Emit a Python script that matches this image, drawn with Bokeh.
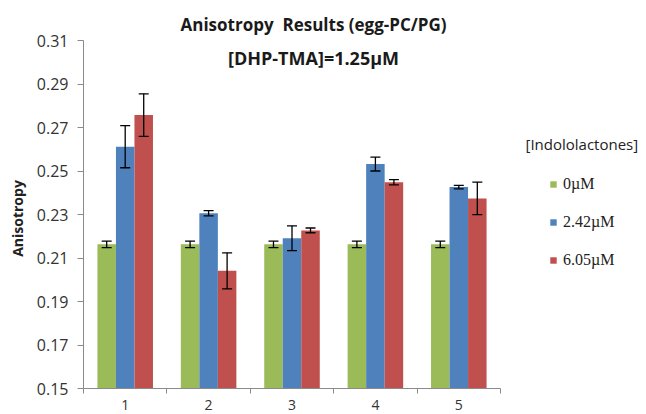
import math
from bokeh.plotting import figure
from bokeh.models import (ColumnDataSource, Whisker, FixedTicker, Range1d, Legend,
                          LegendItem, Label)
from bokeh.transform import dodge
from bokeh.embed import file_html
from bokeh.resources import INLINE

# ---- data ----
samples = [1, 2, 3, 4, 5]
sample_labels = ["1", "2", "3", "4", "5"]
series_names = ["0\u00b5M", "2.42\u00b5M", "6.05\u00b5M"]
vals_0 = [0.2163, 0.2163, 0.2163, 0.2163, 0.2163]
err_0 = [0.0015, 0.0015, 0.0015, 0.0015, 0.0015]
vals_242 = [0.2612, 0.2306, 0.2191, 0.2532, 0.2426]
err_242 = [0.0097, 0.0012, 0.0057, 0.0032, 0.0008]
vals_605 = [0.2757, 0.2041, 0.2227, 0.2448, 0.2374]
err_605 = [0.0098, 0.0083, 0.0011, 0.0012, 0.0075]
y_ticks = [0.15, 0.17, 0.19, 0.21, 0.23, 0.25, 0.27, 0.29, 0.31]
colors = ["#9BBB59", "#4F81BD", "#C0504D"]

title_text = "Anisotropy \u00a0Results (egg-PC/PG)"
subtitle_text = "[DHP-TMA]=1.25\u00b5M"
legend_title = "[Indololactones]"
y_label = "Anisotropy"

series = [(vals_0, err_0), (vals_242, err_242), (vals_605, err_605)]

# ---- layout (pixels) ----
W, H = 646, 414
AX_L, AX_B = 83, 388      # axes origin in pixels
AX_R, AX_T = 500, 40      # where the axes end (x = 5.5, y = 0.31)
x0, x1 = samples[0] - 0.5, samples[-1] + 0.5
px_x = (AX_R - AX_L) / (x1 - x0)
px_y = (AX_B - AX_T) / (y_ticks[-1] - y_ticks[0])

p = figure(width=W, height=H, output_backend="svg", toolbar_location=None,
           x_range=Range1d(x0 - AX_L / px_x, x0 + (W - AX_L) / px_x),
           y_range=Range1d(y_ticks[0] - (H - AX_B) / px_y, y_ticks[0] + AX_B / px_y),
           min_border=0)
p.outline_line_color = None
p.xgrid.visible = False
p.ygrid.visible = False
p.background_fill_color = "white"

bw = 0.222
offsets = [-bw, 0.0, bw]
items = []
for (v, e), name, c, off in zip(series, series_names, colors, offsets):
    src = ColumnDataSource(dict(x=samples, top=v,
                                lower=[a - b for a, b in zip(v, e)],
                                upper=[a + b for a, b in zip(v, e)]))
    r = p.vbar(x=dodge("x", off, range=p.x_range), top="top", bottom=y_ticks[0],
               width=bw, source=src, fill_color=c, line_color=None)
    items.append(LegendItem(label=name, renderers=[r]))
    w = Whisker(base=dodge("x", off, range=p.x_range), lower="lower", upper="upper",
                source=src, line_color="black", line_width=1.3, level="overlay")
    for head in (w.upper_head, w.lower_head):
        head.size = 10
        head.line_color = "black"
        head.line_width = 1.3
    p.add_layout(w)

# axes (fixed inside the frame, which covers the whole canvas)
p.yaxis.fixed_location = x0
p.yaxis.bounds = (y_ticks[0], y_ticks[-1])
p.yaxis.ticker = FixedTicker(ticks=y_ticks)
p.yaxis.major_label_overrides = {t: "%.2f" % t for t in y_ticks}
p.yaxis.major_label_text_font = "Open Sans"
p.yaxis.major_label_text_font_size = "16px"
p.yaxis.major_label_text_color = "#333333"
p.yaxis.major_tick_out = 6
p.yaxis.major_tick_in = 0
p.yaxis.minor_tick_out = 0
p.yaxis.minor_tick_in = 0
p.yaxis.major_label_standoff = 9
p.yaxis.axis_line_color = "#8a8a8a"
p.yaxis.major_tick_line_color = "#8a8a8a"

p.xaxis.fixed_location = y_ticks[0]
p.xaxis.bounds = (x0, x1)
p.xaxis.ticker = FixedTicker(ticks=samples,
                             minor_ticks=[s - 0.5 for s in samples] + [x1])
p.xaxis.major_label_overrides = {s: l for s, l in zip(samples, sample_labels)}
p.xaxis.major_label_text_font = "Open Sans"
p.xaxis.major_label_text_font_size = "14px"
p.xaxis.major_label_text_color = "#333333"
p.xaxis.major_tick_out = 0
p.xaxis.major_tick_in = 0
p.xaxis.minor_tick_out = 5
p.xaxis.minor_tick_in = 0
p.xaxis.minor_tick_line_color = "#8a8a8a"
p.xaxis.major_label_standoff = 6
p.xaxis.axis_line_color = "#8a8a8a"

fx = lambda px: px
fy = lambda py: H - py

# texts (screen units relative to the frame's bottom-left = canvas bottom-left)
p.add_layout(Label(x=fx(17), y=fy(218), x_units="screen", y_units="screen", text=y_label,
                   angle=math.pi / 2, text_font="Open Sans", text_font_style="bold",
                   text_font_size="14px", text_align="center", text_baseline="middle",
                   text_color="#222222"))
p.add_layout(Label(x=fx(313), y=fy(24), x_units="screen", y_units="screen", text=title_text,
                   text_font="Open Sans", text_font_style="bold", text_font_size="17px",
                   text_align="center", text_baseline="middle", text_color="#1a1a1a"))
p.add_layout(Label(x=fx(313), y=fy(57), x_units="screen", y_units="screen", text=subtitle_text,
                   text_font="Open Sans", text_font_style="bold", text_font_size="18px",
                   text_align="center", text_baseline="middle", text_color="#1a1a1a"))
p.add_layout(Label(x=fx(525), y=fy(143), x_units="screen", y_units="screen", text=legend_title,
                   text_font="Open Sans", text_font_size="15px",
                   text_align="left", text_baseline="middle", text_color="#222222"))

legend = Legend(items=items, location=(fx(549), fy(270)), padding=0, margin=0,
                glyph_width=8, glyph_height=8, label_height=20, spacing=18,
                label_standoff=6, label_text_font="Liberation Serif",
                label_text_font_size="16px", label_text_color="#222222",
                background_fill_alpha=0, border_line_color=None)
p.add_layout(legend)

open("out.html", "w").write(file_html(p, INLINE))
